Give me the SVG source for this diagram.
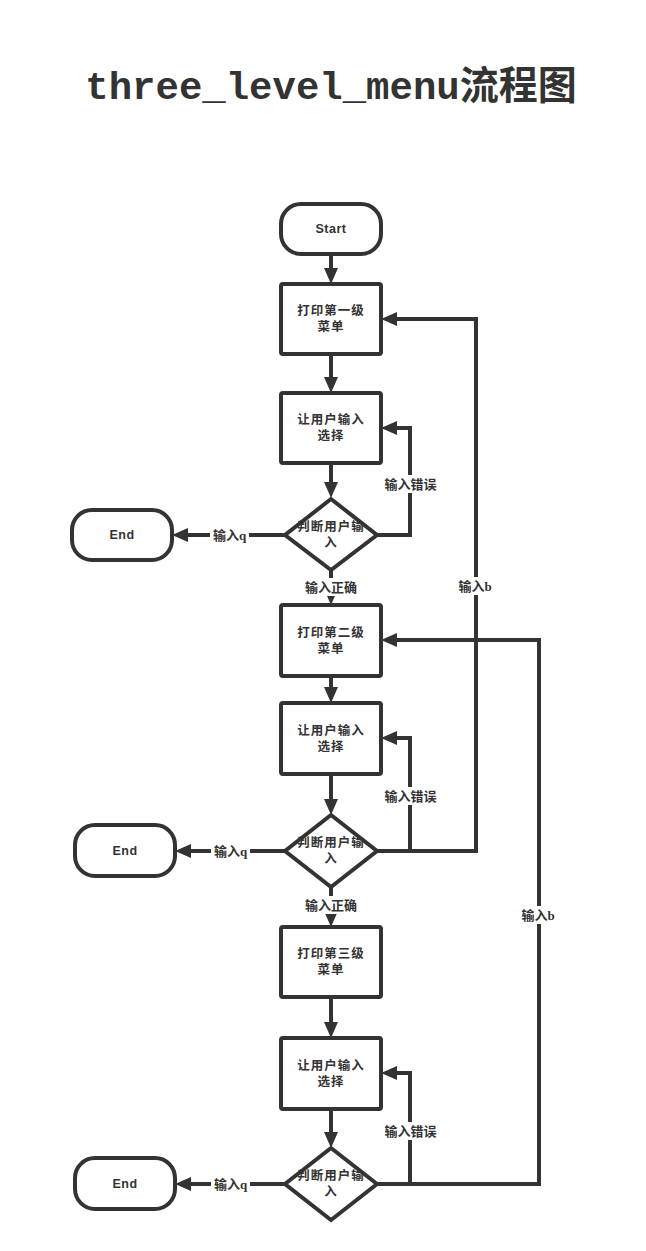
<svg xmlns="http://www.w3.org/2000/svg" width="646" height="1251" viewBox="0 0 646 1251">
<style>
.title{font-family:"Liberation Mono","Noto Sans CJK SC",monospace;font-size:39px;font-weight:bold;fill:#333;text-anchor:middle}
.shape{fill:#fff;stroke:#333;stroke-width:4}
.nt{font-family:"Liberation Sans","Noto Sans CJK SC",sans-serif;font-size:12.5px;font-weight:bold;fill:#333;text-anchor:middle;letter-spacing:1px}
.term{font-family:"Liberation Sans","Noto Sans CJK SC",sans-serif;font-size:12.5px;font-weight:bold;fill:#333;text-anchor:middle;letter-spacing:0.5px}
.conn path{fill:none;stroke:#333;stroke-width:4;marker-end:url(#ah)}
.lbg{fill:#fff}
.lt{font-family:"Liberation Serif","Noto Sans CJK SC",serif;font-size:13px;font-weight:bold;fill:#333;text-anchor:middle}
</style>
<defs>
<marker id="ah" markerUnits="userSpaceOnUse" markerWidth="16" markerHeight="14" viewBox="0 -7 16 14" refX="0" refY="0" orient="auto">
<path d="M0,-7 L16,0 L0,7 z" fill="#333"/>
</marker>
</defs>
<rect width="646" height="1251" fill="#fff"/>
<text class="title" x="331" y="99">three_level_menu流程图</text>

<g id="connectors" class="conn">
<path d="M331,254 V268"/>
<path d="M331,354 V377"/>
<path d="M331,463 V482"/>
<path d="M331,570 V589"/>
<path d="M285,535 H188"/>
<path d="M377,535 H410 V428 H397"/>
<path d="M331,676 V687"/>
<path d="M331,774 V799"/>
<path d="M331,887 V911"/>
<path d="M285,851 H191"/>
<path d="M377,851 H410 V738 H397"/>
<path d="M410,851 H476 V319 H397"/>
<path d="M331,997 V1022"/>
<path d="M331,1109 V1132"/>
<path d="M285,1184 H191"/>
<path d="M377,1184 H410 V1073 H397"/>
<path d="M410,1184 H539 V640 H397"/>
</g>

<g id="labels">
<rect class="lbg" x="301" y="578" width="60" height="18"/><text class="lt" x="331" y="592">输入正确</text>
<rect class="lbg" x="210" y="526" width="39" height="18"/><text class="lt" x="229.5" y="540">输入q</text>
<rect class="lbg" x="381" y="475" width="59" height="18"/><text class="lt" x="410.5" y="489">输入错误</text>
<rect class="lbg" x="456" y="577" width="38" height="18"/><text class="lt" x="475" y="591">输入b</text>
<rect class="lbg" x="301" y="896" width="60" height="18"/><text class="lt" x="331" y="910">输入正确</text>
<rect class="lbg" x="211" y="842" width="39" height="18"/><text class="lt" x="230.5" y="856">输入q</text>
<rect class="lbg" x="381" y="787" width="59" height="18"/><text class="lt" x="410.5" y="801">输入错误</text>
<rect class="lbg" x="519" y="906" width="38" height="18"/><text class="lt" x="538" y="920">输入b</text>
<rect class="lbg" x="211" y="1175" width="39" height="18"/><text class="lt" x="230.5" y="1189">输入q</text>
<rect class="lbg" x="381" y="1122" width="59" height="18"/><text class="lt" x="410.5" y="1136">输入错误</text>
</g>

<g id="start"><rect class="shape" x="281" y="204" width="100" height="50" rx="20"/><text class="term" x="331" y="233">Start</text></g>
<g id="print1"><rect class="shape" x="281" y="284" width="100" height="70" rx="2"/><text class="nt" x="331" y="315">打印第一级</text><text class="nt" x="331" y="331">菜单</text></g>
<g id="input1"><rect class="shape" x="281" y="393" width="100" height="70" rx="2"/><text class="nt" x="331" y="424">让用户输入</text><text class="nt" x="331" y="440">选择</text></g>
<g id="judge1"><path class="shape" d="M331,499 L377,535 L331,570 L285,535 Z"/><text class="nt" x="331" y="531">判断用户输</text><text class="nt" x="331" y="547">入</text></g>
<g id="end1"><rect class="shape" x="72" y="510" width="100" height="50" rx="20"/><text class="term" x="122" y="539">End</text></g>

<g id="print2"><rect class="shape" x="281" y="605" width="100" height="71" rx="2"/><text class="nt" x="331" y="637">打印第二级</text><text class="nt" x="331" y="653">菜单</text></g>
<g id="input2"><rect class="shape" x="281" y="703" width="100" height="71" rx="2"/><text class="nt" x="331" y="735">让用户输入</text><text class="nt" x="331" y="751">选择</text></g>
<g id="judge2"><path class="shape" d="M331,815 L377,851 L331,887 L285,851 Z"/><text class="nt" x="331" y="847">判断用户输</text><text class="nt" x="331" y="863">入</text></g>
<g id="end2"><rect class="shape" x="75" y="825" width="100" height="51" rx="20"/><text class="term" x="125" y="855">End</text></g>

<g id="print3"><rect class="shape" x="281" y="927" width="100" height="70" rx="2"/><text class="nt" x="331" y="958">打印第三级</text><text class="nt" x="331" y="974">菜单</text></g>
<g id="input3"><rect class="shape" x="281" y="1038" width="100" height="71" rx="2"/><text class="nt" x="331" y="1070">让用户输入</text><text class="nt" x="331" y="1086">选择</text></g>
<g id="judge3"><path class="shape" d="M331,1148 L377,1184 L331,1220 L285,1184 Z"/><text class="nt" x="331" y="1180">判断用户输</text><text class="nt" x="331" y="1196">入</text></g>
<g id="end3"><rect class="shape" x="75" y="1158" width="100" height="51" rx="20"/><text class="term" x="125" y="1188">End</text></g>
</svg>
